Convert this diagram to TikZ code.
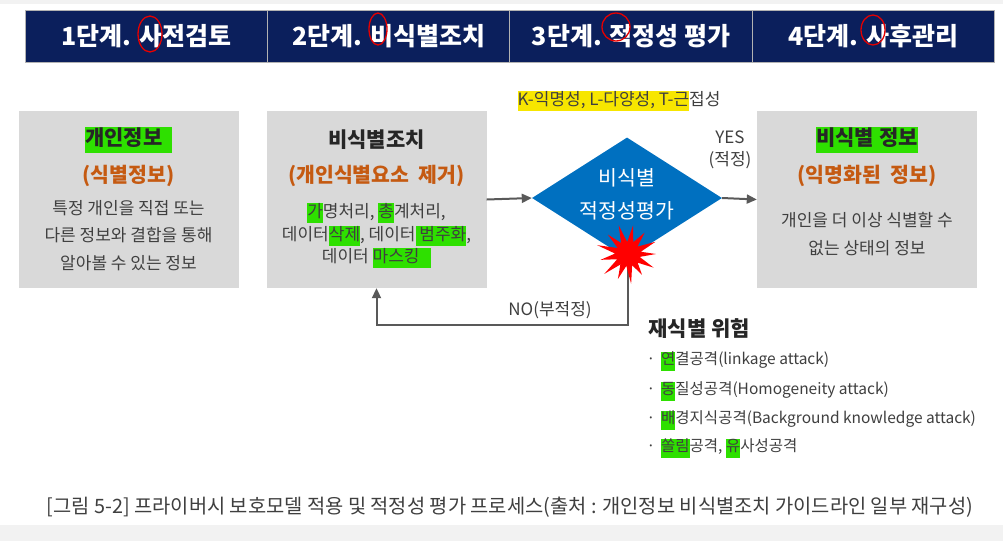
\documentclass[tikz,border=0pt]{standalone}
\usepackage{fontspec}
\setmainfont{Noto Sans CJK KR}
\usetikzlibrary{arrows.meta,shapes.geometric,calc}
\definecolor{navy}{HTML}{0B1F5C}
\definecolor{boxgray}{HTML}{D9D9D9}
\definecolor{rust}{HTML}{C55A11}
\definecolor{diablue}{HTML}{0070C0}
\definecolor{linegray}{HTML}{595959}
\definecolor{textgray}{HTML}{3F3F3F}
\definecolor{hlgreen}{HTML}{2EE000}
\definecolor{hlyellow}{HTML}{F7E600}
\definecolor{bandgray}{HTML}{F2F2F2}

\newcommand{\hlg}[1]{{\setlength{\fboxsep}{0pt}\colorbox{hlgreen}{\strut #1}}}
\newcommand{\hly}[1]{{\setlength{\fboxsep}{0pt}\colorbox{hlyellow}{\strut #1}}}

\begin{document}
\begin{tikzpicture}[x=1pt, y=-1pt,
  stage/.style={rectangle, fill=navy, draw=gray!60, line width=0.8pt, minimum width=242.5, minimum height=52, inner sep=0, text=white, font=\fontsize{25}{28}\selectfont\bfseries},
  infobox/.style={rectangle, fill=boxgray, minimum width=220, minimum height=177, inner sep=0},
  boxtitle/.style={font=\fontsize{21}{25}\selectfont\bfseries, text=black!85},
  boxsub/.style={font=\fontsize{20.5}{24}\selectfont\bfseries, text=rust},
  boxbody/.style={font=\fontsize{17}{20}\selectfont, text=textgray, inner sep=1pt},
  flow/.style={linegray, line width=2pt, -{Triangle[length=10pt, width=9pt]}},
  redmark/.style={red!90!black, line width=1.3pt},
  note/.style={font=\fontsize{17}{20}\selectfont, text=textgray, inner sep=1pt},
  riskitem/.style={font=\fontsize{15.5}{19}\selectfont, text=textgray, inner sep=1pt}]

  \useasboundingbox (0,0) rectangle (1003,541);
  \fill[white] (0,0) rectangle (1003,541);
  \fill[bandgray] (0,0) rectangle (1003,4);
  \fill[bandgray] (0,525) rectangle (1003,541);

  % Stage header
  \foreach \i/\xc/\txt in {1/146.5/{1단계. 사전검토}, 2/389/{2단계. 비식별조치}, 3/631/{3단계. 적정성 평가}, 4/873.5/{4단계. 사후관리}} {
    \node[stage] (stage\i) at (\xc,36) {\txt};
  }

  % Hand-drawn circles on the header
  \draw[redmark] (150,34) ellipse [x radius=12, y radius=18];
  \draw[redmark] (378,29) ellipse [x radius=9, y radius=16];
  \draw[redmark] (616,27) ellipse [x radius=14, y radius=14];
  \draw[redmark] (873,30) ellipse [x radius=12, y radius=15];

  % Step 1: identifiable information
  \node[infobox] (ident) at (128.5,199.5) {};
  \node[boxtitle] (identtitle) at (128.5,140) {\hlg{개인정보\ \ }};
  \node[boxsub] (identsub) at (128.5,176) {(식별정보)};
  \node[boxbody] (identl1) at (128.5,208) {특정 개인을 직접 또는};
  \node[boxbody] (identl2) at (128.5,235) {다른 정보와 결합을 통해};
  \node[boxbody] (identl3) at (128.5,263) {알아볼 수 있는 정보};

  % Step 2: de-identification measures
  \node[infobox] (deid) at (376.5,199.5) {};
  \node[boxtitle] (deidtitle) at (376.5,140) {비식별조치};
  \node[boxsub] (deidsub) at (376.5,176) {(개인식별요소\ \ 제거)};
  \node[boxbody] (deidl1) at (376.5,213) {\hlg{가}명처리, \hlg{총}계처리,};
  \node[boxbody] (deidl2) at (376.5,236) {데이터\hlg{삭제}, 데이터\hlg{ 범주화},};
  \node[boxbody] (deidl3) at (376.5,258) {데이터 \hlg{마스킹\ \ \ }};

  % Step 3: adequacy evaluation
  \node[diamond, fill=diablue, minimum width=190, minimum height=121, inner sep=0] (eval) at (627,198) {};
  \node[font=\fontsize{20.5}{33}\selectfont, text=white, align=center] (evaltxt) at (627,194) {비식별\\적정성평가};
  \node[note] (models) at (619,101) {\hly{K-익명성, L-다양성, T-근}접성};

  % Step 4: de-identified information
  \node[infobox] (anon) at (867,199.5) {};
  \node[boxtitle] (anontitle) at (867,140) {\hlg{비식별 정보}};
  \node[boxsub] (anonsub) at (867,176) {(익명화된\ \ 정보)};
  \node[boxbody] (anonl1) at (867,220) {개인을 더 이상 식별할 수};
  \node[boxbody] (anonl2) at (867,248) {없는 상태의 정보};

  % Flow arrows
  \draw[flow] (deid.east) -- (eval.west);
  \draw[flow] (eval.east) -- (anon.west);
  \node[note, align=center] (yes) at (730,150) {YES\\[2pt](적정)};

  % Re-identification risk and NO loop
  \coordinate (risk) at (628,254);
  \coordinate (nocorner) at (628,325);
  \draw[flow] (risk) -- (nocorner) -| (deid.south);
  \fill[red] ($(risk)+(0:28)$)
    \foreach \a/\r in {14/12, 28/29, 42/13, 56/25, 70/12, 84/30, 98/12, 112/27, 126/13, 140/31, 154/12, 168/28, 182/13, 196/32, 210/12, 224/28, 238/13, 252/30, 266/12, 280/29, 294/13, 308/27, 322/12, 336/30, 350/13}
      {-- ($(risk)+(\a:\r)$)} -- cycle;
  \node[note] (no) at (550,310) {NO(부적정)};

  \node[font=\fontsize{21}{25}\selectfont\bfseries, text=black!85, anchor=west] (risktitle) at (645,329) {재식별 위험};
  \foreach \i/\yc/\txt in {1/361/{\hlg{연}결공격(linkage attack)}, 2/391/{\hlg{동}질성공격(Homogeneity attack)}, 3/420/{\hlg{배}경지식공격(Background knowledge attack)}, 4/448/{\hlg{쏠림}공격, \hlg{유}사성공격}} {
    \node[riskitem, anchor=west] (risk\i) at (660,\yc) {\txt};
    \node[riskitem] (dot\i) at (651,\yc) {·};
  }

  % Caption
  \node[font=\fontsize{19.8}{23}\selectfont, text=textgray] (caption) at (510,507) {[그림 5-2] 프라이버시 보호모델 적용 및 적정성 평가 프로세스(출처 : 개인정보 비식별조치 가이드라인 일부 재구성)};

\end{tikzpicture}
\end{document}
